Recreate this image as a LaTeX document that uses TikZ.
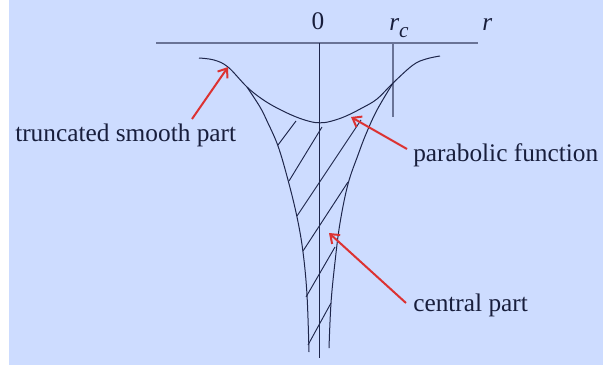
\documentclass[tikz,border=0pt]{standalone}
\usepackage{fontspec}
\setmainfont{Liberation Serif}
\usetikzlibrary{arrows.meta}
\definecolor{bgblue}{RGB}{205,220,255}
\definecolor{axisgray}{RGB}{105,115,150}
\definecolor{ink}{RGB}{30,38,75}
\definecolor{arrred}{RGB}{220,50,50}
\tikzset{
  axisline/.style={draw=axisgray, line width=1.4pt},
  curveline/.style={draw=ink, line width=0.75pt},
  hatchline/.style={draw=ink, line width=0.7pt},
  pointer/.style={draw=arrred, line width=1.5pt, -{Straight Barb[length=6pt,width=9pt,line width=1.5pt]}},
  lbl/.style={inner sep=0pt, font=\fontsize{19}{22}\selectfont, text=ink!80!black},
}
\begin{document}
\begin{tikzpicture}[x=0.75pt,y=-0.75pt]
\useasboundingbox (0,0) rectangle (603,365);
\fill[bgblue] (9,0) rectangle (603,365);
% axes
\coordinate (axL) at (156,43);
\coordinate (axR) at (478,43);
\coordinate (vTop) at (319.5,43);
\coordinate (vBot) at (319.5,358);
\coordinate (rcTop) at (393,43);
\coordinate (rcBot) at (393,117);
\draw[axisline] (axL) -- (axR);
\draw[axisline] (rcTop) -- (rcBot);
\draw[draw=ink, line width=0.9pt] (vTop) -- (vBot);
% labels
\node[lbl] (lab0) at (318,21) {0};
\node[lbl, anchor=base west] (labrc) at (389,30) {\textit{r}\raisebox{-0.3em}{\fontsize{16}{18}\selectfont\textit{c}}};
\node[lbl, anchor=base west] (labr) at (482,30) {\textit{r}};
% smooth truncated curve
\draw[curveline] plot[smooth, tension=0.6] coordinates {(199,58) (214,60) (228,67) (247,87) (262,99) (277,108) (295,116.5) (310,121.5) (320,122.8) (330,121.5) (345,116.5) (362,108) (377,99) (393,83) (413,65) (426,59) (440,56)};
% central branches
\draw[curveline] plot[smooth, tension=0.6] coordinates {(247,87) (260,107) (267,121) (278,146) (288,180) (297,217) (303,252) (307,295) (309,352)};
\draw[curveline] plot[smooth, tension=0.6] coordinates {(393,83) (377,110) (366,134) (358,155) (348,184) (340,223) (335,262) (331,303) (329,348)};
% hatching
\draw[hatchline] (278,145) -- (296,121);
\draw[hatchline] (289,181) -- (322,127);
\draw[hatchline] (297,216) -- (361,120);
\draw[hatchline] (303,251) -- (348,182);
\draw[hatchline] (306,297) -- (335,247);
\draw[hatchline] (308,345) -- (331,303);
% text labels
\node[lbl, anchor=west] (t1) at (15,135) {truncated smooth part};
\node[lbl, anchor=west] (t2) at (413,155) {parabolic function};
\node[lbl, anchor=west] (t3) at (413,305) {central part};
% pointers
\coordinate (a1s) at (192,119);
\coordinate (a1e) at (228,67);
\coordinate (a2s) at (407,149);
\coordinate (a2e) at (351,117);
\coordinate (a3s) at (406,303);
\coordinate (a3e) at (329,233);
\draw[pointer] (a1s) -- (a1e);
\draw[pointer] (a2s) -- (a2e);
\draw[pointer] (a3s) -- (a3e);
\end{tikzpicture}
\end{document}
